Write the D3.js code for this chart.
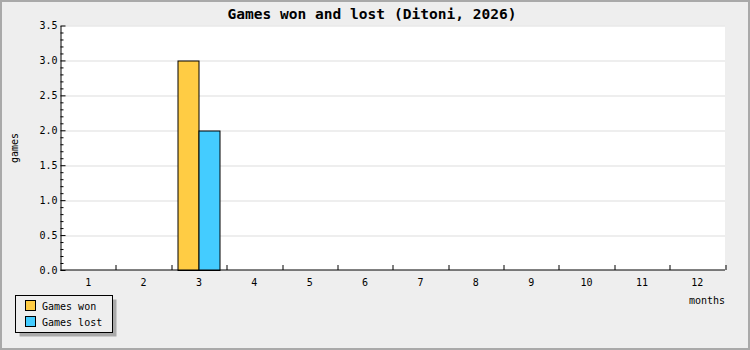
<!DOCTYPE html>
<html lang="en">
<head>
    <meta charset="utf-8">
    <script src="https://unpkg.com/d3@7/dist/d3.min.js"></script>
    <style>
        body { margin: 0; background: #fff; }
        svg text { font-family: "DejaVu Sans Mono", "Liberation Mono", monospace; fill: #000; }
    </style>
</head>
<body>
    <div id="chart"></div>
    <script>
        // chart data
        const months = ["1", "2", "3", "4", "5", "6", "7", "8", "9", "10", "11", "12"];
        const gamesWon = [0, 0, 3, 0, 0, 0, 0, 0, 0, 0, 0, 0];
        const gamesLost = [0, 0, 2, 0, 0, 0, 0, 0, 0, 0, 0, 0];
        const seriesNames = ["Games won", "Games lost"];
        const seriesColors = ["#ffcc44", "#44ccff"];
        const yTicks = [0, 0.5, 1.0, 1.5, 2.0, 2.5, 3.0, 3.5];

        const width = 750, height = 350;
        const margin = { top: 25.5, right: 25, bottom: 80, left: 60.5 };
        const plotW = width - margin.left - margin.right;
        const plotH = height - margin.top - margin.bottom;

        const svg = d3.select("#chart").append("svg")
            .attr("width", width)
            .attr("height", height);

        // background + frame
        svg.append("rect")
            .attr("x", 1).attr("y", 1)
            .attr("width", width - 2).attr("height", height - 2)
            .attr("fill", "#eeeeee")
            .attr("stroke", "#a9a9a9")
            .attr("stroke-width", 2);

        svg.append("text")
            .attr("x", 227.5).attr("y", 18.5)
            .attr("font-size", "14.5px")
            .attr("font-weight", "bold")
            .attr("textLength", 289)
            .attr("lengthAdjust", "spacingAndGlyphs")
            .text("Games won and lost (Ditoni, 2026)");

        const g = svg.append("g").attr("transform", `translate(${margin.left},${margin.top})`);

        const x = d3.scaleBand().domain(months).range([0, plotW]);
        const y = d3.scaleLinear().domain([0, 3.5]).range([plotH, 0]);

        g.append("rect")
            .attr("width", plotW).attr("height", plotH)
            .attr("fill", "#fff");

        // grid
        g.selectAll(".grid").data(yTicks.slice(1))
            .join("line")
            .attr("x1", 0).attr("x2", plotW)
            .attr("y1", d => Math.round(y(d)) + 0.5)
            .attr("y2", d => Math.round(y(d)) + 0.5)
            .attr("stroke", "#dddddd");

        // bars
        const inner = d3.scaleBand().domain([0, 1]).range([0, 42]);
        const series = [gamesWon, gamesLost];
        series.forEach((vals, si) => {
            g.selectAll(".bar" + si).data(months)
                .join("rect")
                .filter((m, i) => vals[i] > 0)
                .attr("x", m => Math.round(x(m) + (x.bandwidth() - 42) / 2 + inner(si)) + 0.5)
                .attr("y", (m) => Math.round(y(vals[months.indexOf(m)])) + 0.5)
                .attr("width", inner.bandwidth())
                .attr("height", m => plotH - Math.round(y(vals[months.indexOf(m)])))
                .attr("fill", seriesColors[si])
                .attr("stroke", "#000");
        });

        // y axis
        const yAxis = d3.axisLeft(y)
            .tickValues(d3.range(0, 3.51, 0.1))
            .tickFormat(d => {
                const r = Math.round(d * 10);
                return r % 5 === 0 ? d3.format(".1f")(d) : "";
            })
            .tickSizeInner(0).tickSizeOuter(0);
        const ya = g.append("g").call(yAxis);
        ya.select(".domain").attr("stroke", "#000");
        ya.selectAll(".tick line")
            .attr("x2", d => Math.round(d * 10) % 5 === 0 ? 5 : 3)
            .attr("stroke", "#000");
        ya.selectAll(".tick text")
            .attr("x", -3)
            .attr("font-size", "10px")
            .style("font-family", "DejaVu Sans Mono, monospace");

        // x axis
        g.append("line")
            .attr("x1", 0).attr("x2", plotW)
            .attr("y1", plotH).attr("y2", plotH)
            .attr("stroke", "#000");
        g.selectAll(".xt").data(months)
            .join("line")
            .attr("x1", m => Math.round(x(m) + x.bandwidth()) + 0.5)
            .attr("x2", m => Math.round(x(m) + x.bandwidth()) + 0.5)
            .attr("y1", plotH).attr("y2", plotH - 5)
            .attr("stroke", "#000");
        g.selectAll(".xl").data(months)
            .join("text")
            .attr("x", m => x(m) + x.bandwidth() / 2)
            .attr("y", plotH + 16)
            .attr("text-anchor", "middle")
            .attr("font-size", "10px")
            .text(m => m);

        // axis titles
        svg.append("text")
            .attr("x", 725).attr("y", 304)
            .attr("text-anchor", "end")
            .attr("font-size", "10px")
            .text("months");
        svg.append("text")
            .attr("transform", "translate(18,148) rotate(-90)")
            .attr("text-anchor", "middle")
            .attr("font-size", "10px")
            .text("games");

        // legend
        const lg = svg.append("g");
        lg.append("rect")
            .attr("x", 19.5).attr("y", 299.5)
            .attr("width", 97).attr("height", 37)
            .attr("fill", "#aaaaaa");
        lg.append("rect")
            .attr("x", 15.5).attr("y", 295.5)
            .attr("width", 97).attr("height", 37)
            .attr("fill", "#eeeeee")
            .attr("stroke", "#000");
        seriesNames.forEach((name, i) => {
            lg.append("rect")
                .attr("x", 25.5).attr("y", 300.5 + i * 16)
                .attr("width", 10).attr("height", 10)
                .attr("fill", seriesColors[i])
                .attr("stroke", "#000");
            lg.append("text")
                .attr("x", 42).attr("y", 309.5 + i * 16)
                .attr("font-size", "10px")
                .text(name);
        });
    </script>
</body>
</html>
